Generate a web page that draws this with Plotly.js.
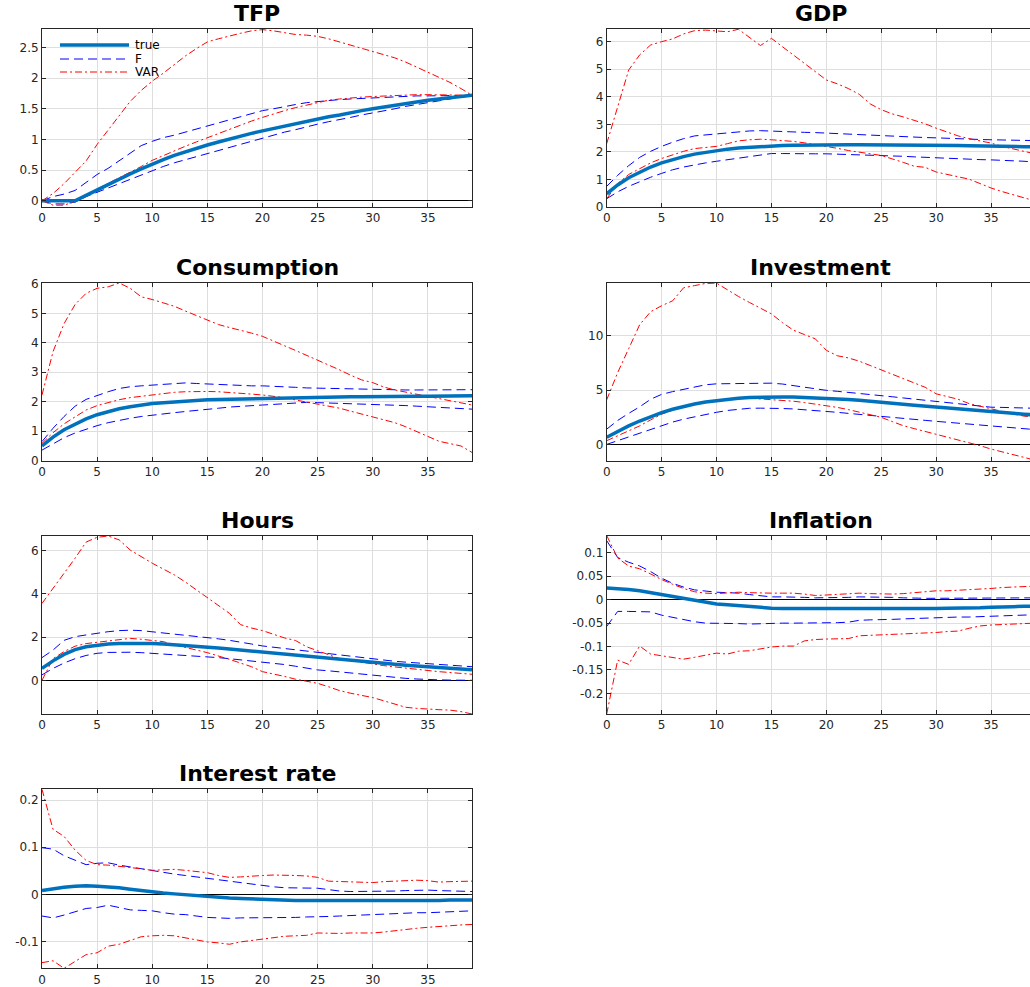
<!DOCTYPE html>
<html>
<head>
<meta charset="utf-8">
<script src="https://cdn.plot.ly/plotly-3.0.1.min.js"></script>
<style>html,body{margin:0;padding:0;background:#fff;overflow:hidden}</style>
</head>
<body>
<div id="chart" style="width:1036px;height:987px"></div>
<script>
// ---- Data ----
const horizon = [0,1,2,3,4,5,6,7,8,9,10,11,12,13,14,15,16,17,18,19,20,21,22,23,24,25,26,27,28,29,30,31,32,33,34,35,36,37,38,39];
const panelTitles = ["TFP","GDP","Consumption","Investment","Hours","Inflation","Interest rate"];
const seriesNames = ["true","F","VAR"];

const tfpTrue  = [0,0,0,0,0.09,0.18,0.27,0.35,0.44,0.52,0.60,0.67,0.74,0.80,0.86,0.91,0.96,1.01,1.06,1.10,1.14,1.18,1.22,1.26,1.30,1.33,1.37,1.40,1.44,1.47,1.50,1.53,1.56,1.59,1.61,1.64,1.66,1.68,1.70,1.72];
const tfpFUp   = [0,0.07,0.11,0.17,0.30,0.43,0.53,0.65,0.78,0.90,0.97,1.03,1.07,1.12,1.17,1.22,1.27,1.32,1.37,1.42,1.47,1.50,1.54,1.57,1.60,1.62,1.64,1.65,1.66,1.67,1.68,1.69,1.70,1.70,1.71,1.71,1.71,1.71,1.71,1.72];
const tfpFLo   = [0,-0.05,-0.05,-0.02,0.07,0.14,0.21,0.28,0.36,0.43,0.50,0.56,0.62,0.67,0.73,0.78,0.83,0.88,0.93,0.98,1.03,1.07,1.12,1.16,1.21,1.25,1.29,1.32,1.36,1.40,1.43,1.47,1.50,1.54,1.57,1.61,1.64,1.67,1.69,1.71];
const tfpVarUp = [0,0.12,0.28,0.46,0.65,0.92,1.15,1.38,1.62,1.80,1.95,2.08,2.22,2.36,2.48,2.59,2.64,2.69,2.73,2.77,2.79,2.77,2.74,2.71,2.70,2.68,2.64,2.59,2.53,2.48,2.43,2.38,2.33,2.26,2.18,2.10,2.02,1.93,1.83,1.72];
const tfpVarLo = [0,-0.07,-0.07,-0.01,0.10,0.19,0.28,0.37,0.46,0.56,0.66,0.74,0.82,0.89,0.96,1.03,1.10,1.17,1.24,1.30,1.36,1.42,1.47,1.52,1.56,1.60,1.64,1.66,1.68,1.69,1.70,1.71,1.72,1.73,1.73,1.73,1.73,1.73,1.72,1.72];

const gdpTrue  = [0.48,0.80,1.06,1.27,1.45,1.60,1.72,1.83,1.92,1.99,2.05,2.10,2.14,2.17,2.20,2.22,2.23,2.24,2.25,2.26,2.26,2.26,2.26,2.26,2.26,2.26,2.25,2.25,2.25,2.24,2.24,2.23,2.23,2.22,2.22,2.21,2.20,2.20,2.19,2.18];
const gdpFUp   = [0.75,1.15,1.50,1.80,2.02,2.20,2.35,2.48,2.58,2.62,2.66,2.69,2.73,2.76,2.77,2.75,2.73,2.72,2.71,2.70,2.68,2.67,2.65,2.63,2.61,2.60,2.58,2.56,2.54,2.52,2.51,2.49,2.48,2.47,2.45,2.44,2.43,2.42,2.42,2.41];
const gdpFLo   = [0.30,0.55,0.75,0.92,1.08,1.22,1.35,1.45,1.53,1.60,1.66,1.72,1.78,1.83,1.88,1.94,1.94,1.93,1.93,1.93,1.93,1.92,1.91,1.90,1.89,1.88,1.86,1.84,1.82,1.80,1.78,1.76,1.74,1.73,1.72,1.71,1.70,1.68,1.66,1.63];
const gdpVarUp = [2.30,3.60,4.97,5.52,5.88,6.00,6.10,6.28,6.40,6.42,6.40,6.36,6.45,6.16,5.86,6.12,5.82,5.52,5.22,4.92,4.61,4.47,4.30,4.09,3.74,3.53,3.38,3.27,3.14,3.02,2.86,2.72,2.58,2.48,2.40,2.32,2.20,2.10,2.02,1.93];
const gdpVarLo = [0.30,0.85,1.18,1.40,1.60,1.76,1.90,2.02,2.12,2.17,2.20,2.30,2.40,2.44,2.46,2.44,2.42,2.38,2.33,2.27,2.20,2.13,2.05,1.98,1.93,1.87,1.75,1.62,1.48,1.44,1.27,1.18,1.10,1.01,0.85,0.69,0.56,0.45,0.32,0.22];

const conTrue  = [0.50,0.80,1.05,1.25,1.42,1.56,1.67,1.76,1.83,1.89,1.94,1.97,2.00,2.03,2.05,2.07,2.08,2.09,2.10,2.11,2.12,2.13,2.14,2.15,2.15,2.16,2.16,2.17,2.17,2.17,2.18,2.18,2.18,2.19,2.19,2.19,2.19,2.20,2.20,2.20];
const conFUp   = [0.65,1.10,1.50,1.85,2.08,2.22,2.34,2.45,2.51,2.54,2.57,2.60,2.62,2.64,2.62,2.60,2.59,2.58,2.55,2.54,2.54,2.53,2.51,2.49,2.47,2.46,2.45,2.44,2.43,2.42,2.41,2.40,2.40,2.40,2.40,2.40,2.40,2.40,2.41,2.41];
const conFLo   = [0.36,0.58,0.78,0.94,1.07,1.19,1.29,1.37,1.44,1.50,1.55,1.59,1.63,1.67,1.70,1.74,1.78,1.82,1.85,1.87,1.89,1.91,1.94,1.96,1.98,1.97,1.96,1.95,1.94,1.93,1.92,1.91,1.89,1.87,1.85,1.83,1.81,1.79,1.77,1.75];
const conVarUp = [2.23,3.70,4.65,5.30,5.68,5.85,5.90,6.03,5.85,5.56,5.47,5.36,5.24,5.08,4.93,4.78,4.62,4.52,4.43,4.33,4.22,4.07,3.90,3.74,3.58,3.42,3.26,3.08,2.90,2.74,2.65,2.50,2.40,2.33,2.25,2.17,2.10,2.03,1.96,1.89];
const conVarLo = [0.59,0.95,1.25,1.50,1.72,1.87,1.98,2.07,2.14,2.19,2.23,2.28,2.32,2.34,2.35,2.35,2.34,2.32,2.29,2.26,2.23,2.19,2.14,2.06,1.99,1.92,1.85,1.78,1.68,1.58,1.47,1.38,1.29,1.15,0.99,0.84,0.66,0.58,0.50,0.28];

const invTrue  = [0.65,1.20,1.70,2.15,2.55,2.92,3.23,3.50,3.72,3.90,4.04,4.15,4.24,4.30,4.34,4.36,4.36,4.35,4.32,4.28,4.23,4.18,4.12,4.05,3.98,3.88,3.79,3.70,3.60,3.51,3.42,3.34,3.26,3.18,3.10,3.02,2.94,2.86,2.78,2.70];
const invFUp   = [1.40,2.20,2.85,3.45,4.15,4.60,4.85,5.08,5.30,5.48,5.57,5.57,5.57,5.57,5.60,5.63,5.55,5.40,5.28,5.12,4.97,4.88,4.79,4.70,4.60,4.50,4.38,4.27,4.16,4.05,3.95,3.85,3.74,3.63,3.52,3.42,3.40,3.37,3.34,3.32];
const invFLo   = [0.00,0.35,0.70,1.05,1.40,1.72,2.05,2.32,2.55,2.75,2.95,3.12,3.25,3.32,3.33,3.33,3.30,3.26,3.20,3.12,3.05,2.95,2.85,2.75,2.65,2.55,2.46,2.38,2.30,2.21,2.12,2.03,1.94,1.84,1.75,1.66,1.60,1.52,1.44,1.36];
const invVarUp = [4.10,6.60,8.80,11.00,12.20,12.75,13.20,14.40,14.60,14.80,14.83,14.20,13.60,13.05,12.50,12.00,11.20,10.50,10.10,9.70,8.65,8.15,7.95,7.65,7.25,6.85,6.45,6.05,5.65,5.25,4.65,4.40,4.15,3.75,3.50,3.25,3.00,2.80,2.60,2.50];
const invVarLo = [0.34,0.80,1.25,1.70,2.25,2.77,3.15,3.50,3.70,3.88,4.03,4.12,4.20,4.25,4.18,4.12,4.05,3.97,3.85,3.72,3.57,3.40,3.20,2.97,2.74,2.49,2.10,1.72,1.45,1.20,0.95,0.65,0.40,0.18,-0.12,-0.43,-0.68,-0.95,-1.20,-1.45];

const hrsTrue  = [0.55,0.90,1.20,1.42,1.55,1.63,1.68,1.70,1.71,1.71,1.70,1.68,1.65,1.61,1.57,1.53,1.49,1.45,1.40,1.35,1.30,1.25,1.20,1.15,1.10,1.05,1.00,0.96,0.91,0.87,0.82,0.78,0.74,0.70,0.66,0.63,0.59,0.56,0.52,0.49];
const hrsFUp   = [1.05,1.40,1.85,2.02,2.10,2.18,2.25,2.30,2.32,2.30,2.25,2.20,2.15,2.09,2.04,1.99,1.92,1.85,1.78,1.68,1.59,1.53,1.48,1.42,1.36,1.30,1.23,1.16,1.10,1.03,0.97,0.93,0.88,0.84,0.80,0.76,0.73,0.69,0.66,0.63];
const hrsFLo   = [0.25,0.55,0.80,1.00,1.15,1.25,1.29,1.30,1.30,1.28,1.25,1.23,1.20,1.17,1.13,1.10,1.05,1.00,0.95,0.91,0.86,0.80,0.73,0.65,0.56,0.48,0.44,0.39,0.33,0.27,0.22,0.18,0.13,0.09,0.06,0.03,0.02,0.01,0.01,0.00];
const hrsVarUp = [3.56,4.25,4.95,5.65,6.40,6.62,6.68,6.50,6.03,5.72,5.42,5.15,4.88,4.55,4.18,3.80,3.45,3.10,2.58,2.42,2.30,2.13,1.96,1.84,1.55,1.37,1.20,1.00,0.92,0.83,0.74,0.68,0.62,0.56,0.50,0.44,0.40,0.36,0.32,0.28];
const hrsVarLo = [0.00,1.00,1.33,1.58,1.70,1.76,1.82,1.90,1.94,1.90,1.84,1.79,1.65,1.51,1.40,1.28,1.14,0.97,0.80,0.63,0.40,0.30,0.18,0.05,-0.05,-0.14,-0.30,-0.48,-0.60,-0.70,-0.80,-0.95,-1.10,-1.25,-1.30,-1.34,-1.36,-1.38,-1.45,-1.56];

const infTrue  = [0.025,0.024,0.022,0.019,0.015,0.010,0.006,0.002,-0.002,-0.006,-0.009,-0.011,-0.013,-0.015,-0.017,-0.018,-0.019,-0.019,-0.020,-0.020,-0.020,-0.020,-0.020,-0.020,-0.020,-0.020,-0.020,-0.020,-0.019,-0.019,-0.019,-0.018,-0.018,-0.017,-0.017,-0.016,-0.016,-0.015,-0.014,-0.014];
const infFUp   = [0.126,0.090,0.080,0.072,0.060,0.046,0.035,0.027,0.021,0.018,0.016,0.015,0.014,0.011,0.008,0.006,0.006,0.006,0.005,0.004,0.004,0.004,0.005,0.006,0.006,0.006,0.005,0.004,0.003,0.003,0.003,0.003,0.003,0.003,0.003,0.003,0.004,0.004,0.004,0.004];
const infFLo   = [-0.057,-0.025,-0.025,-0.025,-0.026,-0.033,-0.038,-0.043,-0.047,-0.050,-0.050,-0.051,-0.051,-0.052,-0.051,-0.051,-0.050,-0.050,-0.050,-0.050,-0.050,-0.049,-0.048,-0.044,-0.043,-0.043,-0.042,-0.041,-0.040,-0.039,-0.039,-0.038,-0.037,-0.037,-0.036,-0.036,-0.035,-0.034,-0.033,-0.032];
const infVarUp = [0.137,0.089,0.072,0.066,0.055,0.043,0.033,0.024,0.017,0.014,0.013,0.014,0.016,0.015,0.014,0.014,0.014,0.014,0.012,0.009,0.010,0.011,0.013,0.014,0.013,0.012,0.012,0.013,0.015,0.017,0.019,0.019,0.020,0.021,0.022,0.024,0.026,0.027,0.028,0.029];
const infVarLo = [-0.244,-0.129,-0.138,-0.099,-0.116,-0.120,-0.124,-0.127,-0.123,-0.118,-0.114,-0.116,-0.110,-0.109,-0.105,-0.101,-0.099,-0.099,-0.088,-0.085,-0.084,-0.084,-0.083,-0.077,-0.076,-0.075,-0.074,-0.073,-0.073,-0.072,-0.070,-0.068,-0.067,-0.061,-0.056,-0.054,-0.053,-0.052,-0.051,-0.050];

const intTrue  = [0.008,0.012,0.015,0.017,0.018,0.017,0.016,0.014,0.011,0.008,0.006,0.003,0.001,-0.001,-0.003,-0.005,-0.007,-0.008,-0.009,-0.010,-0.011,-0.012,-0.012,-0.013,-0.013,-0.013,-0.013,-0.014,-0.014,-0.014,-0.014,-0.014,-0.013,-0.013,-0.013,-0.013,-0.013,-0.012,-0.012,-0.012];
const intFUp   = [0.099,0.096,0.082,0.073,0.063,0.066,0.067,0.062,0.058,0.054,0.050,0.046,0.043,0.040,0.037,0.034,0.031,0.027,0.024,0.021,0.018,0.016,0.014,0.014,0.013,0.013,0.010,0.007,0.006,0.006,0.006,0.006,0.007,0.008,0.009,0.009,0.008,0.007,0.006,0.006];
const intFLo   = [-0.046,-0.050,-0.044,-0.037,-0.030,-0.028,-0.023,-0.028,-0.033,-0.034,-0.035,-0.039,-0.042,-0.043,-0.046,-0.049,-0.050,-0.051,-0.050,-0.050,-0.050,-0.050,-0.049,-0.049,-0.048,-0.048,-0.047,-0.046,-0.045,-0.043,-0.042,-0.041,-0.040,-0.040,-0.039,-0.039,-0.038,-0.037,-0.036,-0.035];
const intVarUp = [0.223,0.138,0.123,0.094,0.072,0.063,0.062,0.060,0.057,0.054,0.051,0.052,0.053,0.051,0.048,0.046,0.040,0.036,0.037,0.039,0.040,0.041,0.041,0.040,0.039,0.036,0.028,0.027,0.027,0.026,0.025,0.027,0.028,0.029,0.030,0.029,0.026,0.027,0.028,0.028];
const intVarLo = [-0.145,-0.141,-0.157,-0.143,-0.128,-0.124,-0.110,-0.106,-0.098,-0.090,-0.088,-0.087,-0.088,-0.092,-0.097,-0.101,-0.103,-0.106,-0.101,-0.098,-0.096,-0.092,-0.089,-0.088,-0.087,-0.082,-0.083,-0.083,-0.082,-0.082,-0.082,-0.080,-0.077,-0.074,-0.072,-0.070,-0.068,-0.066,-0.065,-0.064];

// ---- Tick labels ----
const xTicks = [0,5,10,15,20,25,30,35];
const xTickText = ["0","5","10","15","20","25","30","35"];
const tfpTicks = [0,0.5,1,1.5,2,2.5];           const tfpTickText = ["0","0.5","1","1.5","2","2.5"];
const gdpTicks = [0,1,2,3,4,5,6];               const gdpTickText = ["0","1","2","3","4","5","6"];
const conTicks = [0,1,2,3,4,5,6];               const conTickText = ["0","1","2","3","4","5","6"];
const invTicks = [0,5,10];                      const invTickText = ["0","5","10"];
const hrsTicks = [0,2,4,6];                     const hrsTickText = ["0","2","4","6"];
const infTicks = [-0.2,-0.15,-0.1,-0.05,0,0.05,0.1]; const infTickText = ["-0.2","-0.15","-0.1","-0.05","0","0.05","0.1"];
const intTicks = [-0.1,0,0.1,0.2];              const intTickText = ["-0.1","0","0.1","0.2"];

// ---- Styles ----
const COLORS = {true:'#0072BD', F:'#0000ff', VAR:'#ff0000'};
const DASH   = {true:'solid', F:'9px,5px', VAR:'7px,3px,2px,3px'};
const WIDTH  = {true:3.5, F:1, VAR:1};

// ---- Panel configuration ----
const W = 1036, H = 987;
const colL = [42/W, 472/W], colR = [606.7/W, 1035/W];
const rows = [[1-207/H, 1-29/H],[1-460.7/H, 1-283/H],[1-714/H, 1-536/H],[1-968.3/H, 1-789.3/H]];
const panels = [
  {d:[tfpTrue,tfpFUp,tfpFLo,tfpVarUp,tfpVarLo], col:colL, row:rows[0], yr:[-0.1,2.8],    tv:tfpTicks, tt:tfpTickText},
  {d:[gdpTrue,gdpFUp,gdpFLo,gdpVarUp,gdpVarLo], col:colR, row:rows[0], yr:[0,6.46],      tv:gdpTicks, tt:gdpTickText},
  {d:[conTrue,conFUp,conFLo,conVarUp,conVarLo], col:colL, row:rows[1], yr:[0,6.03],      tv:conTicks, tt:conTickText},
  {d:[invTrue,invFUp,invFLo,invVarUp,invVarLo], col:colR, row:rows[1], yr:[-1.5,14.84],  tv:invTicks, tt:invTickText},
  {d:[hrsTrue,hrsFUp,hrsFLo,hrsVarUp,hrsVarLo], col:colL, row:rows[2], yr:[-1.56,6.68],  tv:hrsTicks, tt:hrsTickText},
  {d:[infTrue,infFUp,infFLo,infVarUp,infVarLo], col:colR, row:rows[2], yr:[-0.244,0.136],tv:infTicks, tt:infTickText},
  {d:[intTrue,intFUp,intFLo,intVarUp,intVarLo], col:colL, row:rows[3], yr:[-0.157,0.223],tv:intTicks, tt:intTickText}
];

const FONT = '"DejaVu Sans", Arial, sans-serif';
const tickFont = {family:FONT, size:12, color:'#262626'};
const traces = [];
const layout = {
  width: W, height: H,
  margin:{l:0,r:0,t:0,b:0},
  paper_bgcolor:'#ffffff', plot_bgcolor:'#ffffff',
  showlegend:false,
  annotations:[], shapes:[]
};

panels.forEach((p, i) => {
  const n = i === 0 ? '' : String(i+1);
  const xa = 'x' + n, ya = 'y' + n;
  const common = {
    showline:true, linecolor:'#262626', linewidth:1, mirror:'ticks',
    ticks:'inside', ticklen:4, tickcolor:'#262626', tickwidth:1,
    showgrid:true, gridcolor:'#dedede', gridwidth:1,
    tickfont:tickFont, fixedrange:true
  };
  layout['xaxis'+n] = Object.assign({}, common, {
    domain:p.col, anchor:ya, range:[0,39], tickmode:'array', tickvals:xTicks, ticktext:xTickText, zeroline:false
  });
  layout['yaxis'+n] = Object.assign({}, common, {
    domain:p.row, anchor:xa, range:p.yr, tickmode:'array', tickvals:p.tv, ticktext:p.tt,
    zeroline:true, zerolinecolor:'#000000', zerolinewidth:1
  });
  const addLine = (y, name) => traces.push({
    x:horizon, y:y, xaxis:xa, yaxis:ya, mode:'lines', name:name,
    line:{color:COLORS[name], width:WIDTH[name], dash:DASH[name]}, hoverinfo:'skip'
  });
  addLine(p.d[1], 'F'); addLine(p.d[2], 'F');
  addLine(p.d[3], 'VAR'); addLine(p.d[4], 'VAR');
  addLine(p.d[0], 'true');
  layout.annotations.push({
    text:'<b>'+panelTitles[i]+'</b>', xref:'paper', yref:'paper',
    x:(p.col[0]+p.col[1])/2, y:p.row[1],
    xanchor:'center', yanchor:'bottom', yshift:1, showarrow:false,
    font:{family:FONT, size:22, color:'#000'}
  });
});

// ---- Legend (inside the TFP axes, no box) ----
const legendRowsPx = [45, 59, 72];
seriesNames.forEach((name, k) => {
  const yy = 1 - legendRowsPx[k]/H;
  layout.shapes.push({type:'line', xref:'paper', yref:'paper', x0:60/W, x1:129/W, y0:yy, y1:yy,
    line:{color:COLORS[name], width:WIDTH[name], dash:DASH[name]}});
  layout.annotations.push({text:name, xref:'paper', yref:'paper', x:133/W, y:yy,
    xanchor:'left', yanchor:'middle', showarrow:false,
    font:{family:FONT, size:12, color:'#000'}});
});

Plotly.newPlot('chart', traces, layout, {staticPlot:true, displayModeBar:false});
</script>
</body>
</html>
